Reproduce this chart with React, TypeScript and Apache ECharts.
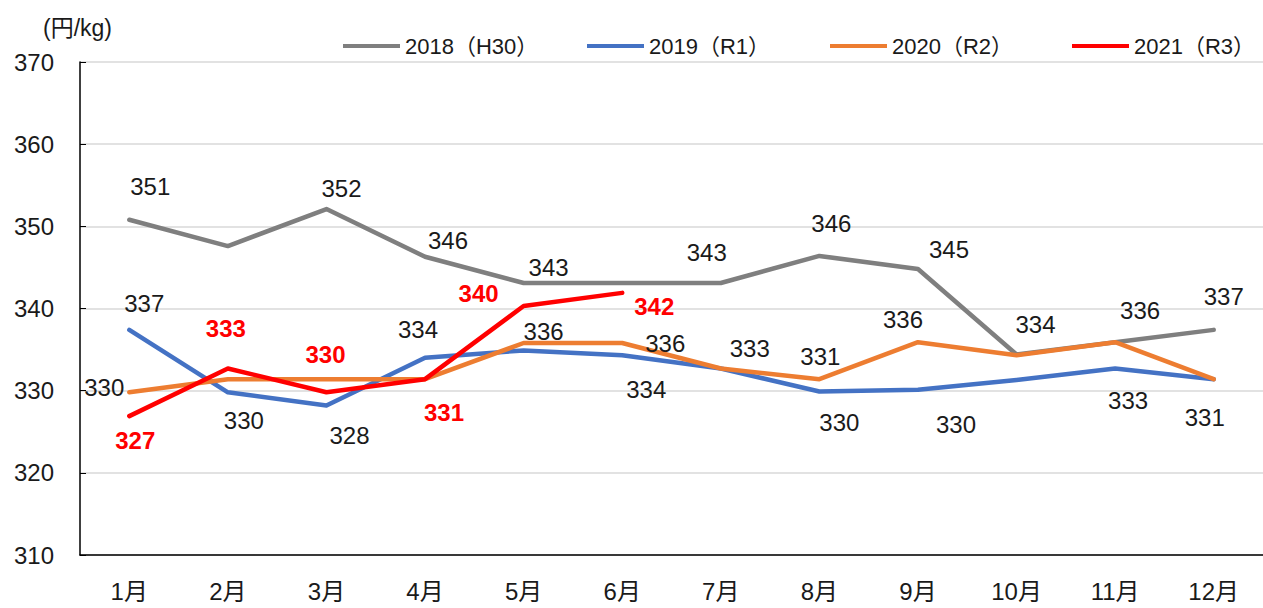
import React, { useEffect, useRef } from "react";
import * as echarts from "echarts";

const months = ["1月", "2月", "3月", "4月", "5月", "6月", "7月", "8月", "9月", "10月", "11月", "12月"];
const seriesNames = ["2018（H30）", "2019（R1）", "2020（R2）", "2021（R3）"];
const values2018 = [350.8, 347.6, 352.1, 346.3, 343.1, 343.1, 343.1, 346.4, 344.8, 334.4, 335.9, 337.4];
const values2019 = [337.4, 329.8, 328.2, 334.0, 334.9, 334.3, 332.7, 329.9, 330.1, 331.3, 332.7, 331.4];
const values2020 = [329.8, 331.4, 331.4, 331.4, 335.8, 335.8, 332.7, 331.4, 335.9, 334.3, 335.9, 331.4];
const values2021 = [326.9, 332.7, 329.8, 331.4, 340.3, 341.9];
const yMin = 310;
const yMax = 370;
const yStep = 10;
const unitLabel = "(円/kg)";

const colors = ["#7f7f7f", "#4472c4", "#ed7d31", "#ff0000"];
const legendLefts = [338, 582, 825, 1067];

// label placement (pixel offset from the point), null = no label
type Off = [number, number] | null;
const labelOffsets: Off[][] = [
  [[21, -33], null, [15, -21], [23, -16], [25, -16], null, [-14, -31], [12, -32], [31, -20], [19, -30], [25, -32], [10, -33]],
  [[15, -26], [16, 28], [23, 30], [-7, -28], null, [24, 34], null, [20, 31], [38, 35], null, [13, 32], [-9, 38]],
  [[-25, -5], null, null, null, [20, -12], [43, 0], [29, -20], [1, -23], [-15, -23], null, null, null],
  [[6, 24], [-2, -40], [-1, -38], [19, 33], [-45, -13], [32, 14]],
];

const FONT = '"Liberation Sans", "Noto Sans CJK JP", sans-serif';

export default function App() {
  const ref = useRef<HTMLDivElement>(null);
  useEffect(() => {
    if (!ref.current) return;
    const chart = echarts.init(ref.current, null, { renderer: "svg" });
    const all = [values2018, values2019, values2020, values2021];
    const series = all.map((vals, si) => ({
      name: seriesNames[si],
      type: "line",
      color: colors[si],
      z: 2 + si,
      symbol: "circle",
      symbolSize: 0.1,
      showSymbol: true,
      lineStyle: { width: 4.5, color: colors[si], cap: "round", join: "round" },
      itemStyle: { color: colors[si] },
      label: {
        show: false,
        position: "inside",
        formatter: (p: any) => String(Math.round(p.value)),
        fontSize: 24,
        fontFamily: FONT,
        fontWeight: si === 3 ? "bold" : "normal",
        color: si === 3 ? "#ff0000" : "#1a1a1a",
        align: "center",
        verticalAlign: "middle",
      },
      emphasis: { disabled: true },
      data: vals.map((v, i) => {
        const off = labelOffsets[si][i];
        return off ? { value: v, label: { show: true, offset: off } } : { value: v };
      }),
    }));

    chart.setOption({
      animation: false,
      backgroundColor: "#ffffff",
      title: {
        text: unitLabel,
        left: 38,
        top: 11,
        textStyle: { fontSize: 23, fontWeight: "normal", fontFamily: FONT, color: "#1a1a1a" },
      },
      legend: seriesNames.map((name, i) => ({
        data: [name],
        left: legendLefts[i],
        top: 30,
        icon: "rect",
        itemWidth: 57,
        itemHeight: 4,
        textStyle: { fontSize: 22, fontFamily: FONT, color: "#1a1a1a" },
      })),
      grid: { left: 80, right: -6, top: 62, bottom: 53, containLabel: false },
      xAxis: {
        type: "category",
        data: months,
        boundaryGap: true,
        axisLine: { show: true, lineStyle: { color: "#000", width: 1.5 } },
        axisTick: { show: false },
        axisLabel: { fontSize: 24, fontFamily: FONT, color: "#1a1a1a", margin: 24 },
        splitLine: { show: false },
      },
      yAxis: {
        type: "value",
        min: yMin,
        max: yMax,
        interval: yStep,
        axisLine: { show: true, lineStyle: { color: "#000", width: 1.5 } },
        axisTick: { show: true, inside: true, length: 6, lineStyle: { color: "#000" } },
        axisLabel: { fontSize: 24, fontFamily: FONT, color: "#1a1a1a", margin: 26 },
        splitLine: { show: true, lineStyle: { color: "#d9d9d9", width: 1.5 } },
      },
      series,
    });
    return () => chart.dispose();
  }, []);
  return (
    <div
      ref={ref}
      style={{ position: "absolute", left: 0, top: 0, width: 1263, height: 608, background: "#fff" }}
    />
  );
}
